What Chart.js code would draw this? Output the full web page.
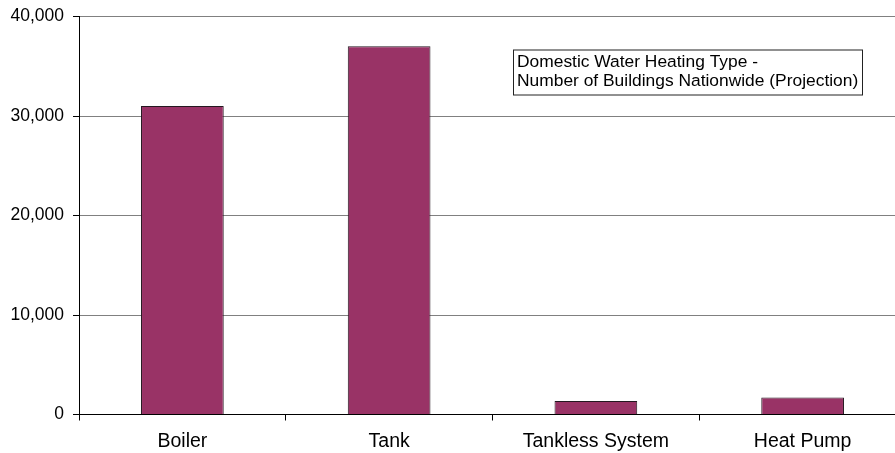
<!DOCTYPE html>
<html>
<head>
<meta charset="utf-8">
<script src="https://cdn.jsdelivr.net/npm/chart.js@4/dist/chart.umd.min.js"></script>
<style>
  html, body { margin: 0; padding: 0; background: #fff; overflow: hidden; }
  #wrap { width: 920px; height: 456px; margin-top: -3px; position: relative; }
</style>
</head>
<body>
<div id="wrap"><canvas id="chart"></canvas></div>
<script>
// Water heating types and projected building counts
const categories = ['Boiler', 'Tank', 'Tankless System', 'Heat Pump'];
const buildings = [31000, 37000, 1350, 1700];
const yTicks = [0, 10000, 20000, 30000, 40000];
const noteLines = ['Domestic Water Heating Type -', 'Number of Buildings Nationwide (Projection)'];

const FONT = "'Liberation Sans', Arial, sans-serif";

// Boxed caption in the upper right of the plot
const notePlugin = {
  id: 'note',
  afterDraw(chart) {
    const ctx = chart.ctx;
    const a = chart.chartArea;
    const x = a.left + 434, y = a.top + 33, w = 349, h = 45;
    ctx.save();
    ctx.fillStyle = '#ffffff';
    ctx.fillRect(x, y, w, h);
    ctx.strokeStyle = '#222222';
    ctx.lineWidth = 1;
    ctx.strokeRect(x + 0.5, y + 0.5, w, h);
    ctx.fillStyle = '#000000';
    ctx.font = '17.4px ' + FONT;
    ctx.textBaseline = 'alphabetic';
    ctx.textAlign = 'left';
    noteLines.forEach((line, i) => ctx.fillText(line, x + 4, y + 17 + i * 19.3));
    ctx.restore();
  }
};

new Chart(document.getElementById('chart'), {
  type: 'bar',
  data: {
    labels: categories,
    datasets: [{
      data: buildings,
      backgroundColor: '#993366',
      borderColor: '#241820',
      borderWidth: 1,
      categoryPercentage: 1.0,
      barPercentage: 0.4
    }]
  },
  options: {
    responsive: true,
    maintainAspectRatio: false,
    animation: false,
    layout: { padding: { top: 13, right: 14, left: 0, bottom: 0 } },
    plugins: {
      legend: { display: false },
      title: { display: false },
      tooltip: { enabled: false }
    },
    scales: {
      x: {
        offset: true,
        grid: {
          display: true,
          offset: true,
          drawOnChartArea: false,
          drawTicks: true,
          tickLength: 6,
          tickColor: '#000000'
        },
        border: { display: true, color: '#000000', width: 1 },
        ticks: {
          color: '#000000',
          font: { family: FONT, size: 19.5 },
          padding: 9,
          maxRotation: 0
        },
        afterFit(s) { s.height = 38.5; }
      },
      y: {
        min: 0,
        max: 40000,
        afterBuildTicks(s) { s.ticks = yTicks.map(v => ({ value: v })); },
        grid: {
          color: '#808080',
          drawTicks: true,
          tickLength: 6,
          tickColor: '#000000'
        },
        border: { display: true, color: '#000000', width: 1 },
        ticks: {
          color: '#000000',
          font: { family: FONT, size: 17.5 },
          padding: 9,
          callback: v => v.toLocaleString('en-US')
        },
        afterFit(s) { s.width = 79; }
      }
    }
  },
  plugins: [notePlugin]
});
</script>
</body>
</html>
